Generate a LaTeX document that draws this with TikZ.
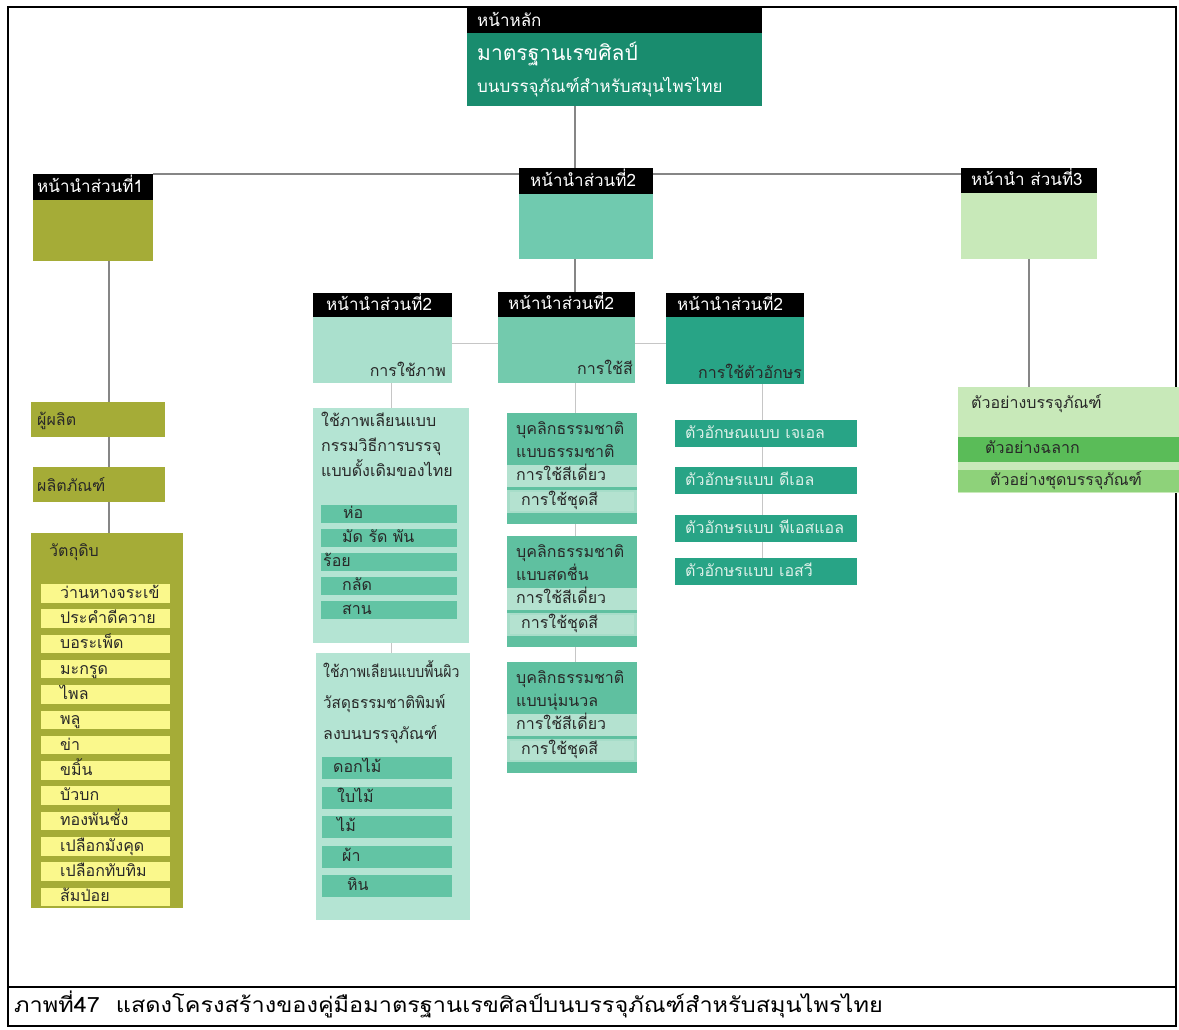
\documentclass[tikz,border=0pt]{standalone}
\usepackage{fontspec}
\setmainfont{Liberation Sans}
\newfontfamily\thai[Script=Thai]{Loma}
\usetikzlibrary{fit,backgrounds}
\definecolor{maingreen}{RGB}{25,140,110}
\definecolor{olive}{RGB}{165,172,55}
\definecolor{yel}{RGB}{250,248,140}
\definecolor{stealA}{RGB}{112,202,175}
\definecolor{picbody}{RGB}{170,224,205}
\definecolor{colbody}{RGB}{115,202,173}
\definecolor{letbody}{RGB}{40,164,134}
\definecolor{sgreen}{RGB}{200,233,185}
\definecolor{piclight}{RGB}{180,228,211}
\definecolor{picband}{RGB}{98,196,164}
\definecolor{coldark}{RGB}{95,192,160}
\definecolor{collight}{RGB}{180,226,208}
\definecolor{exdark}{RGB}{90,188,88}
\definecolor{exmid}{RGB}{142,210,122}
\definecolor{textdark}{RGB}{40,40,40}
\definecolor{lettext}{RGB}{222,240,233}
\tikzset{
  bx/.style={inner sep=0pt, outer sep=0pt, fill=#1},
  txt/.style={anchor=west, inner sep=0pt, text height=11.5pt, text depth=2pt, text=textdark, font=\thai\fontsize{16}{18}\selectfont},
  htxt/.style={anchor=west, inner sep=0pt, text height=12.5pt, text depth=2pt, text=white, font=\thai\fontsize{17}{19}\selectfont},
  conn/.style={draw=gray!95, line width=1.3pt},
  thinconn/.style={draw=gray!45, line width=0.9pt},
  frame/.style={draw=black, line width=1.5pt}
}
\begin{document}
\begin{tikzpicture}[x=1pt,y=-1pt]
\useasboundingbox (0,0) rectangle (1179,1029);
% ---------- main ----------
\node[bx=black, fit={(467,8)(762,33)}] (mainH) {};
\node[bx=maingreen, fit={(467,33)(762,106)}] (mainB) {};
\node[htxt] (mainHt) at (477,21) {หน้าหลัก};
\node[htxt, text height=15pt, text depth=2pt, font=\thai\fontsize{21}{23}\selectfont] (mainT1) at (477,54) {มาตรฐานเรขศิลป์};
\node[htxt] (mainT2) at (477,87) {บนบรรจุภัณฑ์สำหรับสมุนไพรไทย};
% ---------- section 1 ----------
\node[bx=black, fit={(33,174)(153,200)}] (h1) {};
\node[bx=olive, fit={(33,200)(153,261)}] (b1) {};
\node[htxt] (h1t) at (37,187) {หน้านำส่วนที่1};
\node[bx=olive, fit={(31,402)(165,437)}] (prod) {};
\node[txt] (prodt) at (37,421) {ผู้ผลิต};
\node[bx=olive, fit={(33,467)(165,502)}] (prodct) {};
\node[txt] (prodctt) at (37,487) {ผลิตภัณฑ์};
\node[bx=olive, fit={(31,533)(183,908)}] (raw) {};
\node[txt] (rawt) at (49,552) {วัตถุดิบ};
\foreach \t [count=\i from 0] in {ว่านหางจระเข้,ประคำดีควาย,บอระเพ็ด,มะกรูด,ไพล,พลู,ข่า,ขมิ้น,บัวบก,ทองพันชั่ง,เปลือกมังคุด,เปลือกทับทิม,ส้มป่อย}{
  \pgfmathsetmacro\yt{584+\i*25.3}
  \node[bx=yel, fit={(41,\yt)(170,\yt+18.5)}] (y\i) {};
  \node[txt] (yt\i) at (60,\yt+9.5) {\t};
}
% ---------- section 2 ----------
\node[bx=black, fit={(519,168)(653,194)}] (h2) {};
\node[bx=stealA, fit={(519,194)(653,259)}] (b2) {};
\node[htxt] (h2t) at (530,181) {หน้านำส่วนที่2};
% picture
\node[bx=black, fit={(313,293)(452,317)}] (pH) {};
\node[bx=picbody, fit={(313,317)(452,383)}] (pB) {};
\node[htxt] (pHt) at (326,305) {หน้านำส่วนที่2};
\node[txt, anchor=east] (pBt) at (446,372) {การใช้ภาพ};
% colour
\node[bx=black, fit={(498,292)(635,317)}] (cH) {};
\node[bx=colbody, fit={(498,317)(635,383)}] (cB) {};
\node[htxt] (cHt) at (508,304) {หน้านำส่วนที่2};
\node[txt, anchor=east] (cBt) at (633,370) {การใช้สี};
% letters
\node[bx=black, fit={(666,293)(804,317)}] (tH) {};
\node[bx=letbody, fit={(666,317)(804,384)}] (tB) {};
\node[htxt] (tHt) at (677,305) {หน้านำส่วนที่2};
\node[txt] (tBt) at (698,374) {การใช้ตัวอักษร};
% picture column
\node[bx=piclight, fit={(313,408)(469,643)}] (pic1) {};
\node[txt] (pic1a) at (321,422) {ใช้ภาพเลียนแบบ};
\node[txt] (pic1b) at (321,447) {กรรมวิธีการบรรจุ};
\node[txt] (pic1c) at (321,472) {แบบดั้งเดิมของไทย};
\foreach \t/\xx [count=\i from 0] in {ห่อ/343,มัด รัด พัน/342,ร้อย/323,กลัด/342,สาน/342}{
  \pgfmathsetmacro\yt{505+\i*24}
  \node[bx=picband, fit={(321,\yt)(457,\yt+18)}] (pa\i) {};
  \node[txt] (pat\i) at (\xx,\yt+9) {\t};
}
\node[bx=piclight, fit={(316,653)(470,920)}] (pic2) {};
\node[txt] (pic2a) at (323,673) {\scalebox{0.88}[1]{ใช้ภาพเลียนแบบพื้นผิว}};
\node[txt] (pic2b) at (323,704) {\scalebox{0.95}[1]{วัสดุธรรมชาติพิมพ์}};
\node[txt] (pic2c) at (323,735) {ลงบนบรรจุภัณฑ์};
\foreach \t/\xx [count=\i from 0] in {ดอกไม้/333,ใบไม้/337,ไม้/337,ผ้า/342,หิน/347}{
  \pgfmathsetmacro\yt{757+\i*29.5}
  \node[bx=picband, fit={(322,\yt)(452,\yt+22)}] (pb\i) {};
  \node[txt] (pbt\i) at (\xx,\yt+11) {\t};
}
% colour column
\foreach \nm/\tp/\sub [count=\i from 0] in {cA/413/แบบธรรมชาติ,cBx/536/แบบสดชื่น,cC/662/แบบนุ่มนวล}{
  \node[bx=coldark, fit={(507,\tp)(637,\tp+111)}] (\nm) {};
  \node[bx=collight, fit={(507,\tp+52)(637,\tp+74)}] (\nm s) {};
  \node[bx=collight!85!coldark, fit={(507,\tp+77)(637,\tp+100)}] (\nm d) {};
  \node[bx=collight, fit={(510,\tp+79)(634,\tp+98)}] (\nm di) {};
  \node[txt] (\nm t1) at (516,\tp+17) {บุคลิกธรรมชาติ};
  \node[txt] (\nm t2) at (516,\tp+40) {\sub};
  \node[txt] (\nm t3) at (516,\tp+63) {การใช้สีเดี่ยว};
  \node[txt] (\nm t4) at (521,\tp+88) {การใช้ชุดสี};
}
% letter column
\foreach \t/\tp [count=\i from 1] in {ตัวอักษณแบบ เจเอล/420,ตัวอักษรแบบ ดีเอล/467,ตัวอักษรแบบ พีเอสแอล/515,ตัวอักษรแบบ เอสวี/558}{
  \node[bx=letbody, fit={(675,\tp)(857,\tp+27)}] (L\i) {};
  \node[txt, text=lettext] (Lt\i) at (685,\tp+13.5) {\t};
}
% ---------- section 3 ----------
\node[bx=black, fit={(961,168)(1097,193)}] (h3) {};
\node[bx=sgreen, fit={(961,193)(1097,259)}] (b3) {};
\node[htxt] (h3t) at (971,180) {หน้านำ ส่วนที่3};
\node[bx=sgreen, fit={(958,387)(1179,493)}] (ex) {};
\node[bx=exdark, fit={(958,437)(1179,462)}] (exA) {};
\node[bx=exmid, fit={(958,470)(1179,492)}] (exB) {};
\node[txt] (ext) at (971,404) {ตัวอย่างบรรจุภัณฑ์};
\node[txt] (exAt) at (985,449) {ตัวอย่างฉลาก};
\node[txt] (exBt) at (990,481) {ตัวอย่างชุดบรรจุภัณฑ์};
% ---------- caption ----------
\node[anchor=west, inner sep=0pt, text height=16pt, text depth=3pt, font=\thai\fontsize{21}{23}\selectfont] (cap) at (14,1006)
  {\scalebox{1.12}[1]{ภาพที่47 \ แสดงโครงสร้างของคู่มือมาตรฐานเรขศิลป์บนบรรจุภัณฑ์สำหรับสมุนไพรไทย}};
% ---------- background: frame and connectors ----------
\coordinate (trunk) at (575,0);
\coordinate (lc) at (109,0);
\coordinate (lvl) at (0,343);
\coordinate (lx) at (762,0);
\begin{scope}[on background layer]
  \fill[white] (0,0) rectangle (1179,1029);
  \draw[frame] (8,7) rectangle (1176,1026);
  \draw[frame] (8,987) -- (1176,987);
  \draw[conn] (mainB.south -| trunk) -- (h2.north -| trunk);
  \draw[conn] (h1.north east) -- (h1.north east -| h3.west);
  \draw[conn] (b2.south -| trunk) -- (cH.north -| trunk);
  \draw[conn] (b1.south -| lc) -- (raw.north -| lc);
  \draw[conn] (b3.south) -- (ex.north -| b3.south);
  \draw[thinconn] (pB.east |- lvl) -- (cB.west |- lvl);
  \draw[thinconn] (cB.east |- lvl) -- (tH.west |- lvl);
  \draw[thinconn] (pic1.north |- pB.south) -- (pic2.north -| pic1.north);
  \draw[thinconn] (cB.south -| trunk) -- (cC.north -| trunk);
  \draw[thinconn] (tB.south -| lx) -- (L4.north -| lx);
\end{scope}
\end{tikzpicture}
\end{document}
